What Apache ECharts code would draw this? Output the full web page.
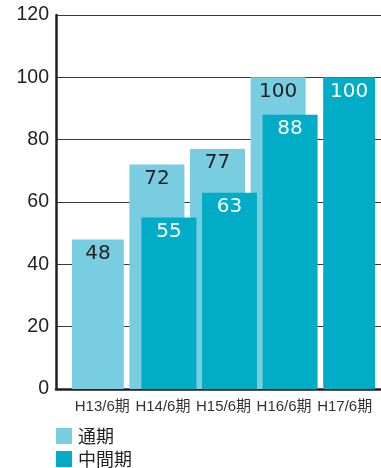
<!DOCTYPE html>
<html>
<head>
<meta charset="utf-8">
<script src="https://cdn.jsdelivr.net/npm/echarts@6/dist/echarts.min.js"></script>
<style>
  html, body { margin: 0; padding: 0; background: #fff; }
  #chart { width: 381px; height: 468px; }
</style>
</head>
<body>
<div id="chart"></div>
<script>
// Period labels along the bottom axis
var categories = ['H13/6期', 'H14/6期', 'H15/6期', 'H16/6期', 'H17/6期'];
// Full-year index values (null where no bar is drawn)
var fullYear = [48, 72, 77, 100, null];
// Interim index values
var interim = [null, 55, 63, 88, 100];
// Value axis range
var yMin = 0, yMax = 120, yStep = 20;

var seriesNames = ['通期', '中間期'];
var colorLight = '#78cee0';
var colorTeal = '#00acc6';
var ink = '#231f20';

var chart = echarts.init(document.getElementById('chart'), null, { renderer: 'canvas' });

function legendEntry(name, top) {
  return {
    orient: 'vertical',
    left: 56,
    top: top,
    padding: 0,
    itemWidth: 16,
    itemHeight: 16,
    itemGap: 0,
    icon: 'rect',
    data: [name],
    selectedMode: false,
    textStyle: { fontFamily: '"Noto Sans CJK JP", sans-serif', fontSize: 18, color: ink, padding: [0, 0, 0, 1] }
  };
}

chart.setOption({
  animation: false,
  backgroundColor: '#ffffff',
  legend: [legendEntry(seriesNames[0], 427), legendEntry(seriesNames[1], 450)],
  grid: [
    // frame: value scale, grid lines and the baseline
    { left: 56, right: 0, top: 15, bottom: 79 },
    // bars: inset category band
    { left: 72, right: 6, top: 15, bottom: 79 }
  ],
  xAxis: [
    {
      gridIndex: 0, type: 'value', min: 0, max: 1,
      axisLine: { show: true, lineStyle: { color: ink, width: 2.5 } },
      axisTick: { show: false }, axisLabel: { show: false }, splitLine: { show: false }
    },
    {
      gridIndex: 1, type: 'category', data: categories,
      axisLine: { show: false }, axisTick: { show: false },
      axisLabel: {
        interval: 0,
        margin: 10,
        fontFamily: '"Liberation Sans", "Noto Sans CJK JP", sans-serif',
        fontSize: 15, color: '#333'
      }
    }
  ],
  yAxis: [
    {
      gridIndex: 0, type: 'value', min: yMin, max: yMax, interval: yStep,
      axisLine: { show: true, lineStyle: { color: ink, width: 2.5 } },
      axisTick: { show: false },
      axisLabel: { margin: 7, fontFamily: '"Liberation Sans", Arial, sans-serif', fontSize: 19.5, color: ink },
      splitLine: { show: true, lineStyle: { color: '#3a3a3a', width: 1 } }
    },
    {
      gridIndex: 1, type: 'value', min: yMin, max: yMax, interval: yStep,
      show: false, splitLine: { show: false }
    }
  ],
  series: [
    {
      name: seriesNames[0], type: 'bar', xAxisIndex: 1, yAxisIndex: 1,
      data: fullYear, barWidth: 55, barGap: '-78.2%',
      itemStyle: { color: colorLight },
      label: {
        show: true, position: 'insideTop', distance: 4,
        fontFamily: '"DejaVu Sans", sans-serif', fontSize: 20, color: ink
      }
    },
    {
      name: seriesNames[1], type: 'bar', xAxisIndex: 1, yAxisIndex: 1,
      data: interim, barWidth: 55,
      itemStyle: { color: colorTeal },
      label: {
        show: true, position: 'insideTop', distance: 4,
        fontFamily: '"DejaVu Sans", sans-serif', fontSize: 20, color: '#ffffff'
      }
    }
  ]
});
</script>
</body>
</html>
